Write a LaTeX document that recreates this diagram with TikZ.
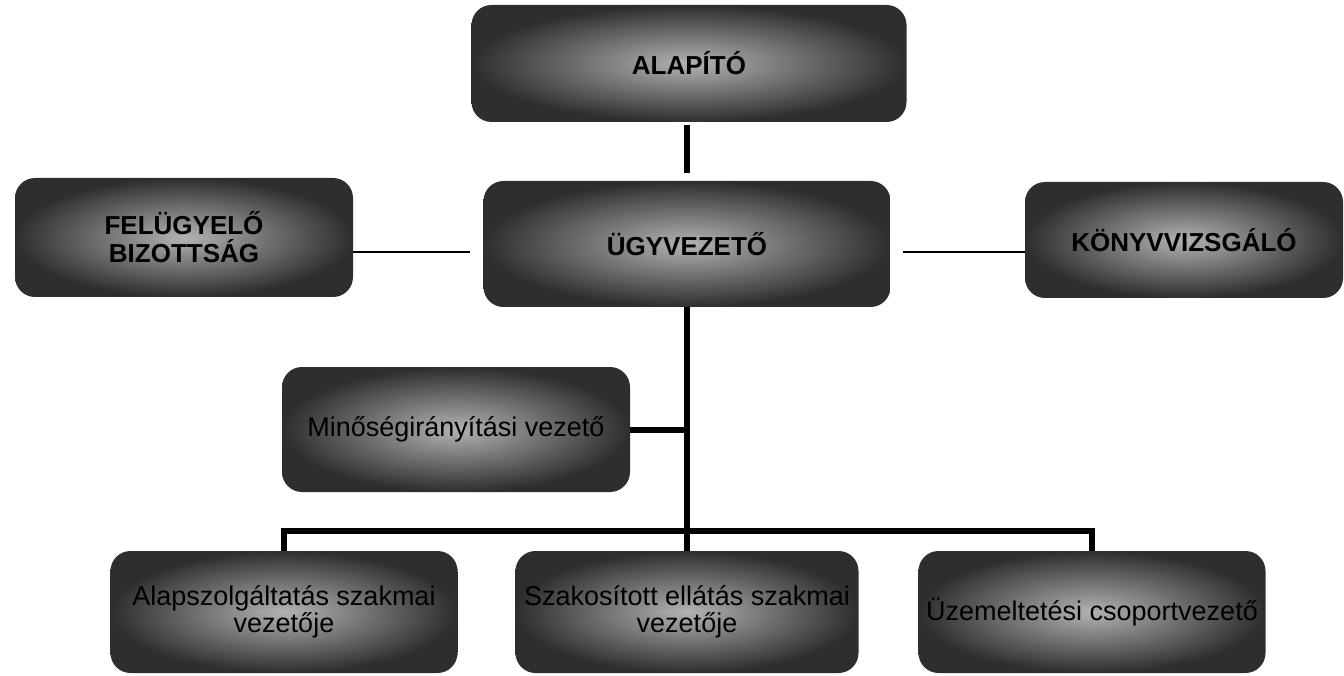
\documentclass[tikz,border=0pt]{standalone}
\usepackage{fontspec}
\setmainfont{Liberation Sans}

\begin{document}
\begin{tikzpicture}[x=1pt, y=-1pt,
    box/.style={shading=radial, inner color=black!30, outer color=black!82,
        rounded corners=20pt, inner sep=0pt, align=center, text=black},
    headbox/.style={box, font=\fontsize{26}{28}\selectfont\bfseries},
    unitbox/.style={box, font=\fontsize{27}{27}\selectfont},
    thickline/.style={line width=6pt},
    sideline/.style={line width=2.5pt}]
    \useasboundingbox (0,0) rectangle (1344,676);
    % Top levels
    \node[headbox, minimum width=435pt, minimum height=117pt]
        (alap) at (689, 63.5) {ALAPÍTÓ};
    \node[headbox, minimum width=407pt, minimum height=126pt]
        (ugy) at (687, 244) {ÜGYVEZETŐ};
    \node[headbox, minimum width=338pt, minimum height=119pt]
        (fb) at (184, 237.5) {FELÜGYELŐ\\BIZOTTSÁG};
    \node[headbox, minimum width=318pt, minimum height=116pt]
        (kv) at (1184, 240) {KÖNYVVIZSGÁLÓ};
    \node[unitbox, minimum width=348pt, minimum height=125pt]
        (min) at (456, 429.5) {Minőségirányítási vezető};
    % Bottom row
    \node[unitbox, minimum width=347pt, minimum height=122pt]
        (alsz) at (284, 612) {Alapszolgáltatás szakmai\\vezetője};
    \node[unitbox, minimum width=343pt, minimum height=122pt]
        (szak) at (687, 612) {Szakosított ellátás szakmai\\vezetője};
    \node[unitbox, minimum width=347pt, minimum height=122pt]
        (uzem) at (1092, 612) {Üzemeltetési csoportvezető};
    % Lines
    \coordinate (lvl) at (0, 252);
    \coordinate (bus) at (687, 531);
    \draw[thickline, shorten <=3pt, shorten >=8pt] (alap.south -| ugy.north) -- (ugy.north);
    \draw[sideline, shorten >=13pt] (fb.east |- lvl) -- (ugy.west |- lvl);
    \draw[sideline, shorten <=12pt] (ugy.east |- lvl) -- (kv.west |- lvl);
    \draw[thickline] (ugy.south) -- (szak.north);
    \draw[thickline] (min.east) -- (min.east -| ugy.south);
    \draw[thickline] (alsz.north) |- (bus) -| (uzem.north);
\end{tikzpicture}
\end{document}
